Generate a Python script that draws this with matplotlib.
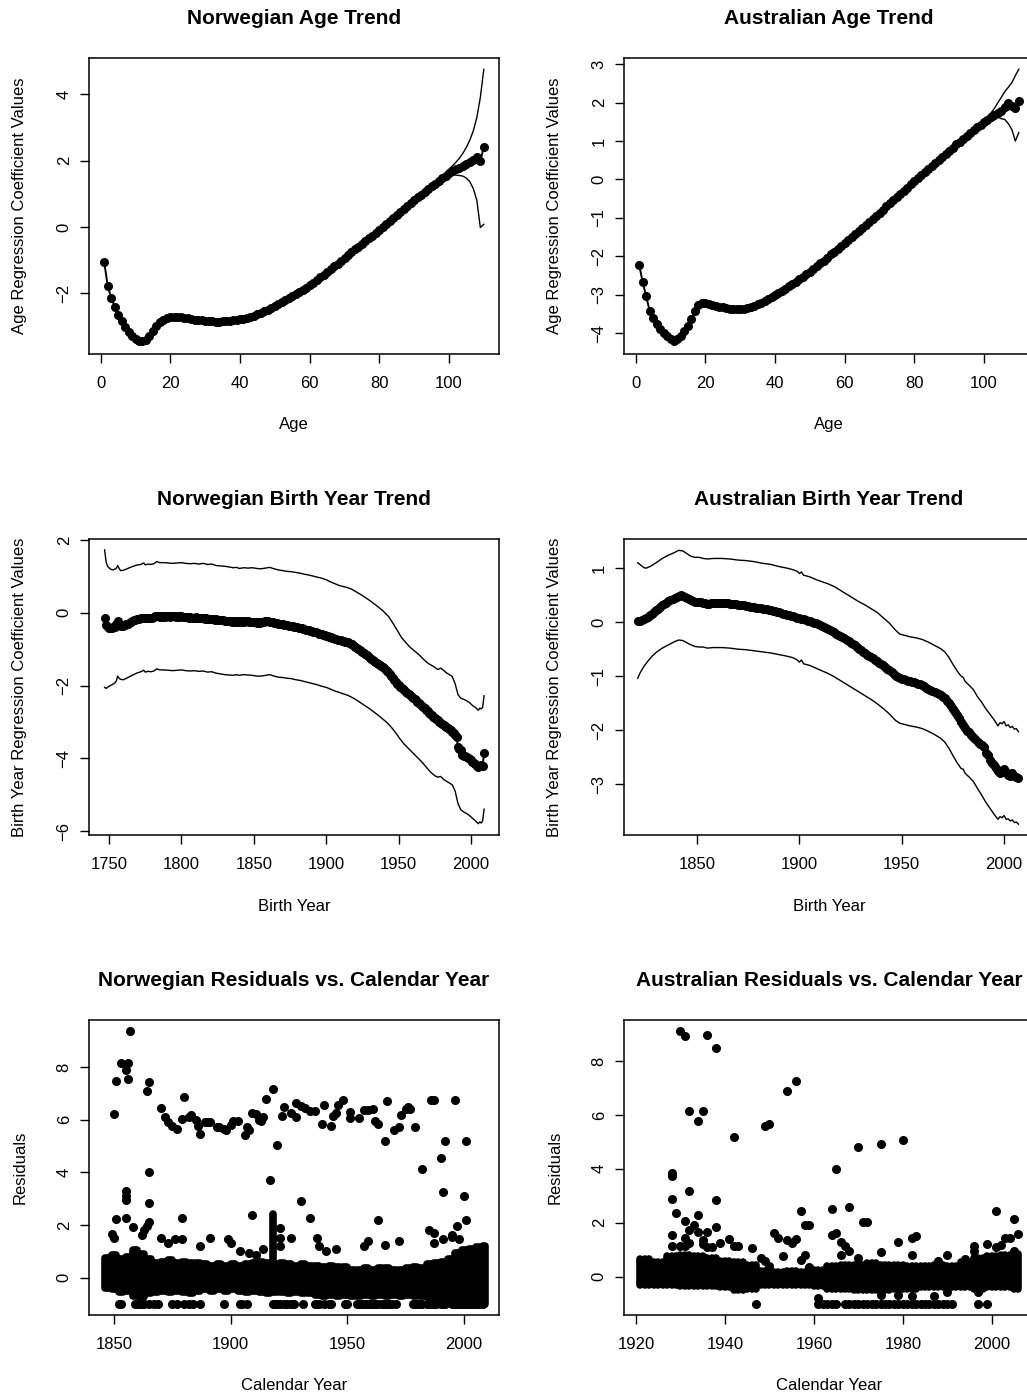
import numpy as np
import matplotlib
matplotlib.use("Agg")
import matplotlib.pyplot as plt

plt.rcParams['font.family'] = ['Liberation Sans', 'DejaVu Sans']

# ---------------- Panel 1: Norwegian age trend ----------------
nor_age = list(range(1, 111))
nor_age_coef = [
    -1.05, -1.77, -2.13, -2.40, -2.65, -2.85, -3.02, -3.17, -3.29, -3.38,
    -3.43, -3.45, -3.40, -3.28, -3.13, -2.99, -2.88, -2.80, -2.75, -2.72,
    -2.71, -2.71, -2.72, -2.74, -2.76, -2.78, -2.80, -2.81, -2.82, -2.83,
    -2.84, -2.85, -2.86, -2.86, -2.85, -2.84, -2.83, -2.82, -2.81, -2.79,
    -2.77, -2.74, -2.71, -2.67, -2.63, -2.59, -2.54, -2.49, -2.43, -2.38,
    -2.32, -2.27, -2.21, -2.15, -2.09, -2.02, -1.96, -1.89, -1.83, -1.76,
    -1.68, -1.60, -1.52, -1.44, -1.36, -1.28, -1.19, -1.11, -1.02, -0.94,
    -0.85, -0.77, -0.68, -0.60, -0.51, -0.43, -0.34, -0.26, -0.17, -0.09,
    0.00, 0.09, 0.18, 0.27, 0.36, 0.45, 0.54, 0.63, 0.72, 0.81,
    0.89, 0.97, 1.06, 1.14, 1.22, 1.30, 1.38, 1.46, 1.54, 1.62,
    1.68, 1.74, 1.79, 1.84, 1.90, 1.96, 2.03, 2.12, 1.98, 2.41]
nor_age_ci_x = list(range(95, 111))
nor_age_upper = [1.24, 1.32, 1.40, 1.48, 1.57, 1.74, 1.84, 1.95, 2.07, 2.22,
                 2.40, 2.62, 2.90, 3.30, 3.90, 4.75]
nor_age_lower = [1.20, 1.28, 1.36, 1.44, 1.51, 1.56, 1.57, 1.56, 1.55, 1.53,
                 1.47, 1.36, 1.15, 0.80, -0.02, 0.08]

# ---------------- Panel 2: Australian age trend ----------------
aus_age = list(range(1, 111))
aus_age_coef = [
    -2.22, -2.67, -3.04, -3.41, -3.61, -3.76, -3.89, -3.99, -4.08, -4.15,
    -4.19, -4.15, -4.06, -3.94, -3.80, -3.63, -3.42, -3.27, -3.22, -3.22,
    -3.24, -3.27, -3.29, -3.31, -3.33, -3.35, -3.36, -3.37, -3.37, -3.37,
    -3.36, -3.34, -3.31, -3.28, -3.25, -3.21, -3.17, -3.12, -3.06, -3.00,
    -2.95, -2.90, -2.84, -2.78, -2.72, -2.66, -2.60, -2.53, -2.47, -2.40,
    -2.33, -2.26, -2.18, -2.11, -2.03, -1.95, -1.88, -1.80, -1.73, -1.65,
    -1.57, -1.49, -1.42, -1.34, -1.26, -1.18, -1.10, -1.03, -0.95, -0.87,
    -0.79, -0.70, -0.62, -0.54, -0.46, -0.38, -0.30, -0.21, -0.13, -0.05,
    0.03, 0.11, 0.19, 0.27, 0.35, 0.43, 0.51, 0.59, 0.67, 0.75,
    0.83, 0.91, 0.98, 1.06, 1.14, 1.21, 1.28, 1.36, 1.43, 1.50,
    1.56, 1.62, 1.67, 1.72, 1.78, 1.88, 1.98, 1.90, 1.86, 2.04]
aus_age_ci_x = list(range(95, 111))
aus_age_upper = [1.16, 1.24, 1.31, 1.39, 1.47, 1.55, 1.63, 1.73, 1.85, 2.00,
                 2.14, 2.29, 2.40, 2.52, 2.70, 2.87]
aus_age_lower = [1.12, 1.19, 1.26, 1.33, 1.40, 1.46, 1.51, 1.56, 1.60, 1.62,
                 1.58, 1.56, 1.45, 1.30, 1.00, 1.22]

# ---------------- Panel 3: Norwegian birth year trend ----------------
nor_by = list(range(1747, 2010))
nor_by_coef = [
    -0.13, -0.33, -0.39,
    -0.41, -0.42, -0.41, -0.40, -0.38, -0.30, -0.22, -0.30, -0.35, -0.36,
    -0.36, -0.34, -0.32, -0.30, -0.27, -0.25, -0.23, -0.21, -0.19, -0.18,
    -0.17, -0.16, -0.15, -0.13, -0.15, -0.14, -0.15, -0.14, -0.15, -0.14,
    -0.13, -0.12, -0.10, -0.08, -0.10, -0.11, -0.10, -0.11, -0.10, -0.11,
    -0.10, -0.10, -0.11, -0.10, -0.09, -0.10, -0.11, -0.10, -0.11, -0.10,
    -0.10, -0.11, -0.12, -0.11, -0.12, -0.13, -0.12, -0.13, -0.14, -0.13,
    -0.12, -0.13, -0.14, -0.15, -0.14, -0.15, -0.16, -0.15, -0.16, -0.17,
    -0.16, -0.17, -0.18, -0.19, -0.18, -0.19, -0.20, -0.21, -0.20, -0.21,
    -0.22, -0.22, -0.23, -0.22, -0.23, -0.24, -0.23, -0.24, -0.23, -0.24,
    -0.23, -0.24, -0.23, -0.24, -0.23, -0.22, -0.23, -0.24, -0.25, -0.24,
    -0.25, -0.26, -0.27, -0.26, -0.27, -0.26, -0.25, -0.24, -0.23, -0.22,
    -0.23, -0.24, -0.25, -0.26, -0.27, -0.28, -0.29, -0.30, -0.31, -0.31,
    -0.32, -0.33, -0.34, -0.34, -0.35, -0.36, -0.36, -0.37, -0.38, -0.39,
    -0.40, -0.41, -0.42, -0.43, -0.44, -0.45, -0.46, -0.47, -0.48, -0.50,
    -0.51, -0.52, -0.53, -0.54, -0.56, -0.57, -0.58, -0.59, -0.60, -0.62,
    -0.63, -0.65, -0.66, -0.67, -0.69, -0.70, -0.72, -0.73, -0.74, -0.75,
    -0.76, -0.77, -0.78, -0.79, -0.80, -0.81, -0.83, -0.85, -0.87, -0.90,
    -0.93, -0.96, -0.99, -1.02, -1.05, -1.08, -1.11, -1.14, -1.17, -1.20,
    -1.23, -1.26, -1.29, -1.32, -1.35, -1.38, -1.41, -1.44, -1.47, -1.50,
    -1.53, -1.56, -1.60, -1.64, -1.68, -1.74, -1.80, -1.86, -1.91, -1.95,
    -1.99, -2.03, -2.06, -2.10, -2.13, -2.17, -2.20, -2.24, -2.27, -2.31,
    -2.34, -2.38, -2.41, -2.45, -2.48, -2.52, -2.56, -2.60, -2.63, -2.67,
    -2.71, -2.75, -2.79, -2.82, -2.86, -2.90, -2.93, -2.96, -2.99, -3.02,
    -3.05, -3.08, -3.11, -3.14, -3.17, -3.20, -3.23, -3.27, -3.31, -3.36,
    -3.42, -3.70, -3.74, -3.78, -3.90, -3.95, -3.93, -3.97, -4.00, -4.03,
    -4.06, -4.10, -4.13, -4.17, -4.20, -4.24, -4.22, -4.18, -4.22, -3.85]
nor_by_up_x = [1747, 1748, 1749, 1751, 1753, 1755, 1756, 1757, 1758, 1760, 1763, 1766,
               1769, 1772, 1774, 1775, 1777, 1779, 1781, 1783, 1785, 1788, 1791, 1794,
               1797, 1800, 1803, 1806, 1809, 1812, 1815, 1818, 1821, 1824, 1827, 1830,
               1833, 1836, 1838, 1840, 1843, 1846, 1849, 1852, 1855, 1858, 1861, 1864,
               1867, 1870, 1873, 1876, 1879, 1882, 1885, 1888, 1891, 1894, 1897, 1900,
               1903, 1906, 1909, 1912, 1915, 1918, 1921, 1924, 1927, 1930, 1933, 1936,
               1939, 1941, 1943, 1946, 1949, 1952, 1955, 1958, 1961, 1964, 1967, 1970,
               1973, 1975, 1977, 1979, 1981, 1983, 1985, 1987, 1989, 1991, 1993, 1995,
               1997, 1999, 2001, 2003, 2005, 2006, 2007, 2008, 2009]
nor_by_upper = [1.73, 1.40, 1.28, 1.20, 1.18, 1.22, 1.30, 1.22, 1.16, 1.17, 1.22, 1.27,
                1.31, 1.33, 1.37, 1.32, 1.34, 1.33, 1.35, 1.41, 1.38, 1.38, 1.37, 1.36,
                1.37, 1.38, 1.36, 1.35, 1.36, 1.34, 1.36, 1.33, 1.34, 1.30, 1.29, 1.28,
                1.26, 1.24, 1.25, 1.22, 1.24, 1.23, 1.24, 1.22, 1.21, 1.23, 1.25, 1.21,
                1.18, 1.16, 1.14, 1.13, 1.11, 1.09, 1.06, 1.04, 1.01, 0.98, 0.95, 0.91,
                0.85, 0.80, 0.75, 0.72, 0.69, 0.64, 0.57, 0.50, 0.42, 0.34, 0.25, 0.16,
                0.06, -0.02, -0.10, -0.28, -0.48, -0.68, -0.82, -0.95, -1.05, -1.15, -1.27, -1.38,
                -1.45, -1.50, -1.56, -1.52, -1.58, -1.65, -1.70, -1.75, -1.95, -2.25, -2.35, -2.38,
                -2.42, -2.47, -2.55, -2.60, -2.68, -2.62, -2.64, -2.60, -2.28]
nor_by_lo_x = [1747, 1748, 1750, 1752, 1754, 1755, 1756, 1757, 1758, 1760, 1763, 1766,
               1769, 1772, 1774, 1775, 1777, 1779, 1781, 1783, 1785, 1788, 1791, 1794,
               1797, 1800, 1803, 1806, 1809, 1812, 1815, 1818, 1821, 1824, 1827, 1830,
               1833, 1836, 1838, 1840, 1843, 1846, 1849, 1852, 1855, 1858, 1861, 1864,
               1867, 1870, 1873, 1876, 1879, 1882, 1885, 1888, 1891, 1894, 1897, 1900,
               1903, 1906, 1909, 1912, 1915, 1918, 1921, 1924, 1927, 1930, 1933, 1936,
               1939, 1942, 1945, 1948, 1951, 1954, 1957, 1960, 1963, 1966, 1969, 1972,
               1975, 1977, 1979, 1981, 1983, 1985, 1987, 1989, 1991, 1993, 1995, 1997,
               1999, 2001, 2003, 2005, 2006, 2007, 2008, 2009]
nor_by_lower = [-2.05, -2.08, -2.02, -1.98, -1.93, -1.88, -1.74, -1.80, -1.83, -1.84, -1.78, -1.72,
                -1.66, -1.62, -1.58, -1.63, -1.61, -1.62, -1.60, -1.54, -1.57, -1.57, -1.58, -1.59,
                -1.58, -1.57, -1.59, -1.60, -1.59, -1.61, -1.60, -1.63, -1.62, -1.66, -1.68, -1.70,
                -1.71, -1.72, -1.70, -1.72, -1.70, -1.71, -1.72, -1.74, -1.74, -1.72, -1.70, -1.74,
                -1.77, -1.78, -1.80, -1.81, -1.84, -1.86, -1.89, -1.92, -1.95, -1.98, -2.02, -2.05,
                -2.10, -2.15, -2.19, -2.23, -2.27, -2.33, -2.40, -2.48, -2.56, -2.64, -2.73, -2.82,
                -2.92, -3.02, -3.15, -3.30, -3.47, -3.62, -3.74, -3.86, -3.98, -4.10, -4.24, -4.38,
                -4.48, -4.52, -4.50, -4.58, -4.63, -4.68, -4.73, -4.90, -5.25, -5.42, -5.48, -5.52,
                -5.58, -5.65, -5.72, -5.80, -5.75, -5.78, -5.72, -5.40]

# ---------------- Panel 4: Australian birth year trend ----------------
aus_by = list(range(1821, 2008))
aus_by_coef = [
    0.02, 0.03, 0.04, 0.06, 0.08, 0.10, 0.13, 0.16, 0.19, 0.22,
    0.25, 0.28, 0.31, 0.34, 0.36, 0.39, 0.41, 0.43, 0.45, 0.47,
    0.49, 0.50, 0.49, 0.47, 0.45, 0.43, 0.41, 0.39, 0.38, 0.38,
    0.37, 0.37, 0.36, 0.35, 0.34, 0.34, 0.35, 0.35, 0.36, 0.36,
    0.36, 0.36, 0.35, 0.35, 0.35, 0.34, 0.34, 0.33, 0.33, 0.32,
    0.32, 0.31, 0.31, 0.30, 0.30, 0.29, 0.29, 0.28, 0.27, 0.27,
    0.26, 0.25, 0.25, 0.24, 0.23, 0.22, 0.21, 0.20, 0.19, 0.18,
    0.17, 0.16, 0.15, 0.14, 0.13, 0.12, 0.11, 0.10, 0.08, 0.08,
    0.06, 0.05, 0.04, 0.03, 0.02, 0.01, -0.01, -0.02, -0.04, -0.05,
    -0.07, -0.09, -0.11, -0.13, -0.15, -0.17, -0.19, -0.21, -0.23, -0.26,
    -0.28, -0.30, -0.33, -0.35, -0.38, -0.40, -0.43, -0.46, -0.49, -0.52,
    -0.55, -0.57, -0.60, -0.62, -0.65, -0.67, -0.70, -0.72, -0.75, -0.78,
    -0.80, -0.83, -0.86, -0.89, -0.93, -0.96, -0.99, -1.01, -1.03, -1.05,
    -1.06, -1.07, -1.08, -1.09, -1.10, -1.11, -1.12, -1.14, -1.15, -1.17,
    -1.19, -1.21, -1.23, -1.25, -1.27, -1.29, -1.31, -1.33, -1.35, -1.38,
    -1.41, -1.45, -1.50, -1.55, -1.60, -1.66, -1.72, -1.78, -1.84, -1.90,
    -1.96, -2.01, -2.04, -2.08, -2.13, -2.17, -2.22, -2.26, -2.28, -2.31,
    -2.42, -2.45, -2.55, -2.60, -2.65, -2.70, -2.75, -2.80, -2.78, -2.72,
    -2.78, -2.82, -2.85, -2.80, -2.84, -2.86, -2.89]
aus_by_up_x = [1821, 1822, 1824, 1825, 1827, 1830, 1833, 1836, 1839, 1841, 1843, 1845,
               1847, 1849, 1851, 1853, 1855, 1858, 1862, 1866, 1870, 1874, 1878, 1882,
               1886, 1890, 1894, 1897, 1899, 1900, 1901, 1902, 1905, 1908, 1911, 1914,
               1917, 1920, 1923, 1926, 1929, 1932, 1935, 1938, 1941, 1944, 1947, 1949,
               1951, 1954, 1957, 1960, 1963, 1966, 1969, 1971, 1973, 1975, 1977, 1979,
               1980, 1981, 1983, 1985, 1987, 1989, 1991, 1993, 1995, 1997, 1998, 1999,
               2000, 2001, 2002, 2003, 2004, 2005, 2006, 2007]
aus_by_upper = [1.10, 1.07, 1.01, 1.00, 1.03, 1.10, 1.18, 1.24, 1.29, 1.33, 1.32, 1.27,
                1.22, 1.20, 1.20, 1.18, 1.17, 1.18, 1.18, 1.17, 1.15, 1.14, 1.12, 1.09,
                1.07, 1.03, 1.00, 0.97, 0.94, 0.90, 0.93, 0.87, 0.84, 0.79, 0.75, 0.71,
                0.66, 0.59, 0.52, 0.45, 0.38, 0.32, 0.25, 0.18, 0.08, -0.02, -0.15, -0.22,
                -0.24, -0.27, -0.29, -0.32, -0.37, -0.43, -0.49, -0.55, -0.65, -0.78, -0.90, -1.00,
                -1.02, -1.10, -1.17, -1.25, -1.38, -1.48, -1.60, -1.70, -1.80, -1.92, -1.86, -1.88,
                -1.84, -1.92, -1.90, -1.95, -1.93, -1.98, -1.97, -2.03]
aus_by_lo_x = [1821, 1822, 1824, 1826, 1828, 1830, 1833, 1836, 1839, 1841, 1843, 1845,
               1847, 1849, 1851, 1853, 1855, 1858, 1862, 1866, 1870, 1874, 1878, 1882,
               1886, 1890, 1894, 1897, 1899, 1900, 1901, 1902, 1905, 1908, 1911, 1914,
               1917, 1920, 1923, 1926, 1929, 1932, 1935, 1938, 1941, 1944, 1947, 1949,
               1951, 1954, 1957, 1960, 1963, 1966, 1969, 1971, 1973, 1975, 1977, 1979,
               1980, 1981, 1983, 1985, 1987, 1989, 1991, 1993, 1995, 1997, 1998, 1999,
               2000, 2001, 2002, 2003, 2004, 2005, 2006, 2007]
aus_by_lower = [-1.04, -0.95, -0.82, -0.72, -0.63, -0.56, -0.48, -0.42, -0.36, -0.33, -0.34, -0.38,
                -0.42, -0.45, -0.46, -0.46, -0.48, -0.47, -0.47, -0.48, -0.50, -0.51, -0.53, -0.55,
                -0.57, -0.60, -0.63, -0.66, -0.70, -0.74, -0.70, -0.77, -0.80, -0.85, -0.90, -0.95,
                -1.01, -1.08, -1.15, -1.22, -1.29, -1.36, -1.43, -1.51, -1.60, -1.70, -1.82, -1.87,
                -1.89, -1.92, -1.94, -1.97, -2.02, -2.08, -2.15, -2.22, -2.33, -2.47, -2.60, -2.71,
                -2.72, -2.80, -2.87, -2.95, -3.08, -3.20, -3.33, -3.44, -3.55, -3.65, -3.60, -3.62,
                -3.58, -3.65, -3.64, -3.68, -3.66, -3.71, -3.70, -3.74]

# ---------------- Panel 5: Norwegian residuals ----------------
# dense band of residuals: year blocks with lowest / highest residual
nor_band_start = [1846, 1849, 1852, 1855, 1858, 1861, 1864, 1867, 1870, 1873, 1876, 1879,
                  1882, 1885, 1888, 1891, 1894, 1897, 1900, 1903, 1906, 1909, 1912, 1915,
                  1918, 1921, 1924, 1927, 1930, 1933, 1936, 1939, 1942, 1945, 1948, 1951,
                  1954, 1957, 1960, 1963, 1966, 1969, 1972, 1975, 1978, 1981, 1984, 1987,
                  1990, 1993, 1996, 1999, 2002, 2005, 2008]
nor_band_end = [1848, 1851, 1854, 1857, 1860, 1863, 1866, 1869, 1872, 1875, 1878, 1881,
                1884, 1887, 1890, 1893, 1896, 1899, 1902, 1905, 1908, 1911, 1914, 1917,
                1920, 1923, 1926, 1929, 1932, 1935, 1938, 1941, 1944, 1947, 1950, 1953,
                1956, 1959, 1962, 1965, 1968, 1971, 1974, 1977, 1980, 1983, 1986, 1989,
                1992, 1995, 1998, 2001, 2004, 2007, 2009]
nor_band_low = [-0.40, -0.45, -0.55, -0.50, -0.70, -0.75, -0.60, -0.55, -0.50, -0.55, -0.50, -0.55,
                -0.60, -0.50, -0.45, -0.50, -0.45, -0.50, -0.45, -0.50, -0.55, -0.50, -0.55, -0.60,
                -0.55, -0.55, -0.60, -0.55, -0.60, -0.60, -0.65, -0.70, -0.65, -0.70, -0.65, -0.70,
                -0.70, -0.65, -0.70, -0.65, -0.70, -0.65, -0.70, -0.65, -0.70, -0.70, -0.75, -0.80,
                -0.85, -0.90, -0.95, -0.95, -1.00, -1.00, -1.00]
nor_band_high = [0.75, 0.85, 0.70, 0.80, 1.05, 0.90, 0.70, 0.55, 0.60, 0.65, 0.55, 0.60,
                 0.55, 0.55, 0.50, 0.45, 0.50, 0.45, 0.50, 0.45, 0.50, 0.55, 0.60, 0.55,
                 0.50, 0.55, 0.50, 0.45, 0.50, 0.45, 0.45, 0.40, 0.45, 0.40, 0.40, 0.30,
                 0.30, 0.35, 0.30, 0.35, 0.35, 0.30, 0.30, 0.35, 0.40, 0.35, 0.50, 0.55,
                 0.60, 0.70, 0.95, 1.05, 1.10, 1.15, 1.20]
nor_spike_year = [1918]
nor_spike_low = [0.0]
nor_spike_high = [2.40]
nor_minus1_years = [1852, 1853, 1859, 1860, 1861, 1862, 1863, 1865, 1867, 1869, 1875, 1877,
                    1880, 1882, 1884, 1887, 1897, 1904, 1905, 1907, 1918, 1919, 1920, 1921,
                    1923, 1924, 1926, 1927, 1931, 1936, 1937, 1938, 1940, 1942, 1943, 1949,
                    1950, 1954, 1955, 1956, 1957, 1958, 1959, 1960, 1961, 1962, 1963, 1965,
                    1966, 1967, 1968, 1969, 1971, 1978, 1979, 1980, 1981, 1982, 1984, 1985,
                    1986, 1987, 1988, 1990, 1991, 1992, 1995, 1996, 1997, 1998, 1999, 2000,
                    2001, 2002, 2003, 2004, 2005, 2006, 2007, 2008]
nor_out_year = [1850, 1851, 1853, 1856, 1855, 1856, 1857, 1864, 1865, 1870, 1872, 1873,
                1875, 1877, 1879, 1880, 1882, 1883, 1885, 1886, 1887, 1889, 1890, 1891,
                1894, 1895, 1897, 1898, 1900, 1901, 1903, 1906, 1907, 1908, 1909, 1911,
                1912, 1913, 1914, 1915, 1918, 1920, 1917, 1922, 1923, 1926, 1928, 1928,
                1930, 1932, 1934, 1936, 1939, 1940, 1943, 1944, 1945, 1946, 1948, 1951,
                1951, 1955, 1957, 1959, 1961, 1962, 1963, 1966, 1967, 1970, 1972, 1973,
                1975, 1976, 1977, 1979, 1982, 1986, 1987, 1990, 1992, 1991, 1996, 2000,
                2001, 2001,
                1865, 1865, 1855, 1855, 1855, 1855, 1851, 1858, 1865, 1864, 1849, 1850,
                1862, 1863, 1879, 1870, 1873, 1876, 1879, 1891, 1887, 1899, 1900, 1909,
                1904, 1908, 1911, 1914, 1921, 1921, 1921, 1926, 1930, 1934, 1937, 1938,
                1941, 1945, 1957, 1959, 1963, 1966, 1972, 1985, 1987, 1987, 1991, 1995,
                1995, 1997, 1998]
nor_out_val = [6.20, 7.48, 8.15, 8.15, 7.88, 7.55, 9.36, 7.09, 7.41, 6.45, 6.09, 5.92,
               5.77, 5.64, 6.04, 6.87, 6.10, 6.16, 5.98, 5.76, 5.44, 5.90, 5.92, 5.92,
               5.72, 5.70, 5.65, 5.62, 5.78, 5.93, 5.96, 5.42, 5.72, 5.62, 6.25, 6.20,
               6.00, 5.93, 6.10, 6.79, 7.17, 5.02, 3.71, 6.13, 6.48, 6.25, 6.08, 6.64,
               6.53, 6.43, 6.33, 6.33, 5.82, 6.55, 5.77, 6.13, 6.25, 6.55, 6.74, 6.30,
               6.05, 6.07, 6.35, 6.35, 6.40, 5.93, 5.82, 5.19, 6.71, 5.62, 5.71, 6.16,
               6.40, 6.46, 6.40, 5.72, 4.12, 6.74, 6.74, 4.53, 5.18, 3.24, 6.74, 3.10,
               5.20, 2.19,
               4.00, 2.85, 3.30, 3.10, 2.95, 2.28, 2.22, 1.91, 2.10, 1.95, 1.65, 1.50,
               1.60, 1.80, 2.28, 1.50, 1.30, 1.45, 1.45, 1.50, 1.20, 1.45, 1.30, 2.38,
               1.00, 0.95, 0.85, 1.10, 1.90, 1.50, 1.20, 1.50, 2.92, 2.28, 1.50, 1.20,
               1.00, 1.10, 1.20, 1.40, 2.20, 1.25, 1.40, 1.80, 1.70, 1.30, 1.45, 1.55,
               1.62, 1.95, 1.45]

# ---------------- Panel 6: Australian residuals ----------------
aus_band_start = [1921, 1924, 1927, 1930, 1933, 1936, 1939, 1942, 1945, 1948, 1951, 1954,
                  1957, 1960, 1963, 1966, 1969, 1972, 1975, 1978, 1981, 1984, 1987, 1990,
                  1993, 1996, 1999, 2002, 2005]
aus_band_end = [1923, 1926, 1929, 1932, 1935, 1938, 1941, 1944, 1947, 1950, 1953, 1956,
                1959, 1962, 1965, 1968, 1971, 1974, 1977, 1980, 1983, 1986, 1989, 1992,
                1995, 1998, 2001, 2004, 2006]
aus_band_low = [-0.30, -0.30, -0.32, -0.35, -0.35, -0.35, -0.40, -0.50, -0.45, -0.30, -0.30, -0.30,
                -0.30, -0.35, -0.45, -0.45, -0.50, -0.50, -0.50, -0.45, -0.45, -0.40, -0.40, -0.40,
                -0.40, -0.45, -0.40, -0.40, -0.45]
aus_band_high = [0.65, 0.55, 0.75, 0.80, 0.75, 0.70, 0.60, 0.55, 0.45, 0.20, 0.18, 0.20,
                 0.18, 0.25, 0.40, 0.45, 0.45, 0.50, 0.45, 0.45, 0.40, 0.40, 0.45, 0.40,
                 0.55, 0.70, 0.75, 0.80, 0.85]
aus_minus1_years = [1947, 1961, 1962, 1963, 1964, 1965, 1967, 1968, 1969, 1970, 1971, 1972,
                    1973, 1974, 1975, 1976, 1977, 1978, 1979, 1980, 1981, 1982, 1983, 1984,
                    1985, 1986, 1987, 1988, 1989, 1990, 1991, 1997, 1999]
aus_out_year = [1930, 1931, 1936, 1938, 1932, 1934, 1935, 1942, 1949, 1950, 1954, 1956,
                1970, 1975, 1980, 1928, 1928, 1928, 1929, 1932, 1931, 1933, 1934, 1938,
                1932, 1934, 1936, 1931, 1938, 1928, 1928, 1930, 1931, 1932, 1935, 1935,
                1936, 1937, 1939, 1941, 1942, 1943, 1946, 1951, 1952, 1953, 1954, 1955,
                1956, 1957, 1958, 1959, 1958, 1948, 1949, 1950, 1957, 1959, 1964, 1964,
                1965, 1965, 1966, 1967, 1966, 1968, 1968, 1971, 1972, 1970, 1975, 1979,
                1982, 1983, 1982, 1988, 1990, 1994, 1996, 1996, 1999, 2001, 2001, 2002,
                2003, 2004, 2005, 2006, 2005, 1961, 1975, 1979, 1982, 1987, 1997, 1990]
aus_out_val = [9.13, 8.94, 8.96, 8.47, 6.16, 5.79, 6.16, 5.19, 5.60, 5.68, 6.90, 7.27,
               4.82, 4.91, 5.06, 3.83, 3.73, 2.89, 2.35, 3.18, 2.07, 1.92, 2.30, 2.85,
               1.75, 1.65, 1.65, 1.45, 1.85, 1.55, 1.15, 1.15, 1.15, 1.25, 1.35, 1.20,
               1.10, 1.10, 1.25, 1.40, 1.15, 1.15, 1.07, 1.63, 1.45, 0.78, 1.35, 1.25,
               1.40, 2.43, 1.93, 1.90, 0.80, 0.70, 0.60, 0.40, 0.62, 0.35, 2.50, 1.55,
               1.63, 3.99, 1.30, 1.15, 0.80, 2.60, 0.96, 2.03, 2.02, 0.70, 0.92, 1.27,
               1.42, 1.50, 0.80, 0.60, 0.80, 0.65, 1.15, 0.95, 1.20, 2.43, 1.10, 1.17,
               1.45, 1.45, 2.15, 1.60, 0.95, -0.80, -0.66, -0.66, -0.72, -0.72, -0.55, -0.55]

# ---------------- layout ----------------
W, H = 1027, 1398
fig = plt.figure(figsize=(W / 100, H / 100), dpi=100)

def make_ax(l, t, r, b):
    return fig.add_axes([l / W, 1 - b / H, (r - l) / W, (b - t) / H])

def style(ax, title, xlabel, ylabel, xticks, yticks, box):
    l, t, r, b = box
    wpx, hpx = r - l, b - t
    for s in ax.spines.values():
        s.set_linewidth(1.1)
    ax.set_xticks(xticks)
    ax.set_yticks(yticks)
    ax.tick_params(axis='both', direction='out', length=6.5, width=1.0,
                   labelsize=12, color='black')
    ax.tick_params(axis='x', pad=9)
    ax.tick_params(axis='y', pad=6)
    for lab in ax.get_yticklabels():
        lab.set_rotation(90)
        lab.set_va('center')
    ax.set_xlabel(xlabel, fontsize=12, va='center')
    ax.xaxis.set_label_coords(0.5, -71 / hpx)
    ax.set_ylabel(ylabel, fontsize=12, va='center', ha='center')
    ax.yaxis.set_label_coords(-69 / wpx, 0.5)
    ax.text(0.5, 1 + 40 / hpx, title, transform=ax.transAxes, ha='center',
            va='center', fontsize=15, fontweight='bold')

MS = 5.5

# Panel 1
box1 = (89, 58, 499, 354)
ax1 = make_ax(*box1)
ax1.plot(nor_age_ci_x, nor_age_upper, '-', color='black', lw=1.0)
ax1.plot(nor_age_ci_x, nor_age_lower, '-', color='black', lw=1.0)
ax1.plot(nor_age, nor_age_coef, '-o', color='black', lw=1.4, ms=MS)
ax1.set_xlim(-3.36, 114.36)
ax1.set_ylim(-3.83, 5.09)
style(ax1, 'Norwegian Age Trend', 'Age', 'Age Regression Coefficient Values',
      [0, 20, 40, 60, 80, 100], [-2, 0, 2, 4], box1)

# Panel 2
box2 = (624, 58, 1034, 354)
ax2 = make_ax(*box2)
ax2.plot(aus_age_ci_x, aus_age_upper, '-', color='black', lw=1.0)
ax2.plot(aus_age_ci_x, aus_age_lower, '-', color='black', lw=1.0)
ax2.plot(aus_age, aus_age_coef, '-o', color='black', lw=1.4, ms=MS)
ax2.set_xlim(-3.36, 114.36)
ax2.set_ylim(-4.54, 3.16)
style(ax2, 'Australian Age Trend', 'Age', 'Age Regression Coefficient Values',
      [0, 20, 40, 60, 80, 100], [-4, -3, -2, -1, 0, 1, 2, 3], box2)

# Panel 3
box3 = (89, 539, 499, 835)
ax3 = make_ax(*box3)
ax3.plot(nor_by_up_x, nor_by_upper, '-', color='black', lw=1.0)
ax3.plot(nor_by_lo_x, nor_by_lower, '-', color='black', lw=1.0)
ax3.plot(nor_by, nor_by_coef, '-o', color='black', lw=1.4, ms=MS)
ax3.set_xlim(1736.2, 2019.3)
ax3.set_ylim(-6.11, 2.03)
style(ax3, 'Norwegian Birth Year Trend', 'Birth Year',
      'Birth Year Regression Coefficient Values',
      [1750, 1800, 1850, 1900, 1950, 2000], [-6, -4, -2, 0, 2], box3)

# Panel 4
box4 = (624, 539, 1034, 835)
ax4 = make_ax(*box4)
ax4.plot(aus_by_up_x, aus_by_upper, '-', color='black', lw=1.0)
ax4.plot(aus_by_lo_x, aus_by_lower, '-', color='black', lw=1.0)
ax4.plot(aus_by, aus_by_coef, '-o', color='black', lw=1.4, ms=MS)
ax4.set_xlim(1814.3, 2014.6)
ax4.set_ylim(-3.94, 1.54)
style(ax4, 'Australian Birth Year Trend', 'Birth Year',
      'Birth Year Regression Coefficient Values',
      [1850, 1900, 1950, 2000], [-3, -2, -1, 0, 1], box4)

def draw_band(ax, starts, ends, lows, highs):
    for s, e, lo, hi in zip(starts, ends, lows, highs):
        yrs = np.arange(s, e + 1)
        ax.vlines(yrs, lo, hi, colors='black', lw=MS, capstyle='round')

# Panel 5
box5 = (89, 1020, 499, 1315)
ax5 = make_ax(*box5)
draw_band(ax5, nor_band_start, nor_band_end, nor_band_low, nor_band_high)
draw_band(ax5, nor_spike_year, nor_spike_year, nor_spike_low, nor_spike_high)
ax5.plot(nor_minus1_years, [-1.0] * len(nor_minus1_years), 'o', color='black', ms=MS)
ax5.plot(nor_out_year, nor_out_val, 'o', color='black', ms=MS)
ax5.set_xlim(1839.3, 2015.0)
ax5.set_ylim(-1.42, 9.78)
style(ax5, 'Norwegian Residuals vs. Calendar Year', 'Calendar Year', 'Residuals',
      [1850, 1900, 1950, 2000], [0, 2, 4, 6, 8], box5)

# Panel 6
box6 = (624, 1020, 1034, 1315)
ax6 = make_ax(*box6)
draw_band(ax6, aus_band_start, aus_band_end, aus_band_low, aus_band_high)
ax6.plot(aus_minus1_years, [-1.0] * len(aus_minus1_years), 'o', color='black', ms=MS)
ax6.plot(aus_out_year, aus_out_val, 'o', color='black', ms=MS)
ax6.set_xlim(1917.3, 2009.5)
ax6.set_ylim(-1.42, 9.52)
style(ax6, 'Australian Residuals vs. Calendar Year', 'Calendar Year', 'Residuals',
      [1920, 1940, 1960, 1980, 2000], [0, 2, 4, 6, 8], box6)

fig.savefig('out.png', dpi=100)
